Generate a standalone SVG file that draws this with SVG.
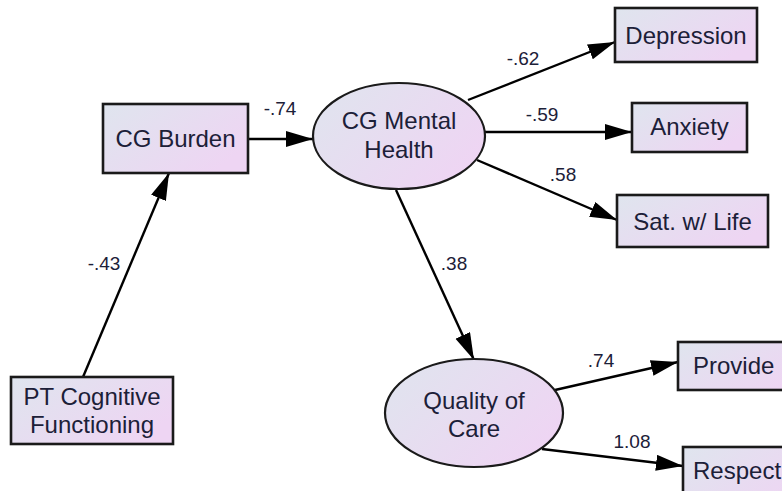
<svg xmlns="http://www.w3.org/2000/svg" width="782" height="491" viewBox="0 0 782 491">
<defs>
<linearGradient id="fillg" x1="0" y1="0" x2="1" y2="0.6">
<stop offset="0" stop-color="#dfe5ee"/>
<stop offset="1" stop-color="#eed5f3"/>
</linearGradient>
<marker id="arr" markerUnits="userSpaceOnUse" markerWidth="30" markerHeight="18" refX="27" refY="8" orient="auto">
<path d="M0,0 L27,8 L0,16 z" fill="#000"/>
</marker>
<style>
.box{fill:url(#fillg);stroke:#1a1a1a;stroke-width:2.6}
.ell{fill:url(#fillg);stroke:#1a1a1a;stroke-width:2.2}
.t{font-family:"Liberation Sans",Arial,sans-serif;font-size:24px;fill:#1c2038;text-anchor:middle}
.lb{font-family:"Liberation Sans",Arial,sans-serif;font-size:19px;fill:#1c2038;text-anchor:middle}
.c{stroke:#000;stroke-width:2.4;fill:none;marker-end:url(#arr)}
</style>
</defs>
<rect width="782" height="491" fill="#fff"/>
<g id="connectors">
<line class="c" x1="83" y1="377" x2="169" y2="173"/>
<line class="c" x1="248" y1="139" x2="313" y2="139"/>
<line class="c" x1="468" y1="100" x2="615" y2="42"/>
<line class="c" x1="485" y1="132" x2="632" y2="132"/>
<line class="c" x1="477" y1="160" x2="617" y2="220"/>
<line class="c" x1="396" y1="190" x2="474" y2="360"/>
<line class="c" x1="555" y1="390" x2="678" y2="362"/>
<line class="c" x1="542" y1="449" x2="683" y2="466"/>
<text class="lb" x="104" y="270">-.43</text>
<text class="lb" x="280" y="115">-.74</text>
<text class="lb" x="523" y="65">-.62</text>
<text class="lb" x="542" y="121">-.59</text>
<text class="lb" x="563" y="181">.58</text>
<text class="lb" x="454" y="270">.38</text>
<text class="lb" x="601" y="367">.74</text>
<text class="lb" x="632" y="448">1.08</text>
</g>
<g id="pt-cognitive">
<rect class="box" x="11" y="377" width="162" height="67"/>
<text class="t" x="92" y="405">PT Cognitive</text>
<text class="t" x="92" y="433">Functioning</text>
</g>
<g id="cg-burden">
<rect class="box" x="103" y="104" width="145" height="69"/>
<text class="t" x="175.5" y="147">CG Burden</text>
</g>
<g id="cg-mental-health">
<ellipse class="ell" cx="399" cy="136" rx="86" ry="53"/>
<text class="t" x="399" y="129">CG Mental</text>
<text class="t" x="399" y="158">Health</text>
</g>
<g id="depression">
<rect class="box" x="615" y="8" width="142" height="54"/>
<text class="t" x="686" y="44">Depression</text>
</g>
<g id="anxiety">
<rect class="box" x="632" y="103" width="115" height="49"/>
<text class="t" x="689.5" y="135">Anxiety</text>
</g>
<g id="sat-life">
<rect class="box" x="617" y="195" width="151" height="52"/>
<text class="t" x="692.5" y="230">Sat. w/ Life</text>
</g>
<g id="quality-of-care">
<ellipse class="ell" cx="474" cy="413" rx="89" ry="54"/>
<text class="t" x="474" y="409">Quality of</text>
<text class="t" x="474" y="437">Care</text>
</g>
<g id="provide">
<rect class="box" x="678" y="342" width="130" height="48"/>
<text class="t" x="693" y="374" style="text-anchor:start">Provide</text>
</g>
<g id="respect">
<rect class="box" x="683" y="447" width="130" height="60"/>
<text class="t" x="693" y="479" style="text-anchor:start">Respect</text>
</g>
</svg>
